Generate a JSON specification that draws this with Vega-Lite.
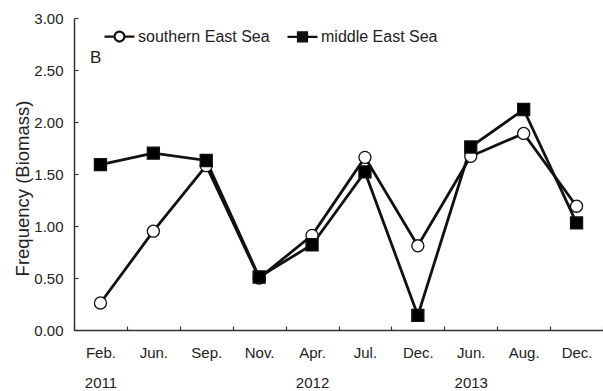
{
  "$schema": "https://vega.github.io/schema/vega-lite/v6.json",
  "width": 529,
  "height": 312,
  "autosize": {"type": "none"},
  "padding": {"left": 74, "top": 18, "right": 0, "bottom": 61},
  "background": "white",
  "title": {
    "text": "B",
    "anchor": "start",
    "frame": "group",
    "dx": 16,
    "offset": -69,
    "baseline": "alphabetic",
    "font": "Liberation Sans",
    "fontSize": 17,
    "fontWeight": "normal",
    "color": "#222"
  },
  "config": {
    "view": {"stroke": null},
    "font": "Liberation Sans",
    "axis": {
      "grid": false,
      "domainColor": "#333",
      "domainWidth": 1.5,
      "tickColor": "#333",
      "tickWidth": 1.2,
      "tickSize": -4,
      "labelFont": "Liberation Sans",
      "labelFontSize": 15,
      "labelColor": "#222",
      "titleFont": "Liberation Sans",
      "titleColor": "#222",
      "titleFontWeight": "normal"
    }
  },
  "data": {
    "values": [
      {"period": "Feb. 2011", "series": "southern East Sea", "value": 0.26},
      {"period": "Jun. 2011", "series": "southern East Sea", "value": 0.95},
      {"period": "Sep. 2011", "series": "southern East Sea", "value": 1.58},
      {"period": "Nov. 2011", "series": "southern East Sea", "value": 0.5},
      {"period": "Apr. 2012", "series": "southern East Sea", "value": 0.91},
      {"period": "Jul. 2012", "series": "southern East Sea", "value": 1.66},
      {"period": "Dec. 2012", "series": "southern East Sea", "value": 0.81},
      {"period": "Jun. 2013", "series": "southern East Sea", "value": 1.67},
      {"period": "Aug. 2013", "series": "southern East Sea", "value": 1.89},
      {"period": "Dec. 2013", "series": "southern East Sea", "value": 1.19},
      {"period": "Feb. 2011", "series": "middle East Sea", "value": 1.59},
      {"period": "Jun. 2011", "series": "middle East Sea", "value": 1.7},
      {"period": "Sep. 2011", "series": "middle East Sea", "value": 1.63},
      {"period": "Nov. 2011", "series": "middle East Sea", "value": 0.51},
      {"period": "Apr. 2012", "series": "middle East Sea", "value": 0.82},
      {"period": "Jul. 2012", "series": "middle East Sea", "value": 1.52},
      {"period": "Dec. 2012", "series": "middle East Sea", "value": 0.14},
      {"period": "Jun. 2013", "series": "middle East Sea", "value": 1.76},
      {"period": "Aug. 2013", "series": "middle East Sea", "value": 2.12},
      {"period": "Dec. 2013", "series": "middle East Sea", "value": 1.03}
    ]
  },
  "encoding": {
    "x": {
      "field": "period",
      "type": "ordinal",
      "sort": null,
      "bandPosition": 0.5,
      "scale": {"type": "band", "paddingInner": 0, "paddingOuter": 0},
      "axis": {
        "title": null,
        "labelAngle": 0,
        "tickBand": "extent",
        "labelPadding": 19,
        "labelLineHeight": 30,
        "labelExpr": "isValid(datum.value) ? [split(datum.value, ' ')[0], indexof(['Feb. 2011', 'Apr. 2012', 'Jun. 2013'], datum.value) >= 0 ? split(datum.value, ' ')[1] : ''] : ''"
      }
    },
    "y": {
      "field": "value",
      "type": "quantitative",
      "scale": {"domain": [0, 3], "nice": false, "zero": true},
      "axis": {
        "title": "Frequency (Biomass)",
        "titleFontSize": 18.5,
        "titleAngle": -90,
        "titleX": -46,
        "titleY": 170,
        "titleAlign": "center",
        "titleBaseline": "alphabetic",
        "values": [0, 0.5, 1, 1.5, 2, 2.5, 3],
        "format": ".2f",
        "labelPadding": 15
      }
    }
  },
  "layer": [
    {
      "mark": {"type": "line", "color": "#111", "strokeWidth": 2.8},
      "encoding": {"detail": {"field": "series"}}
    },
    {
      "mark": {"type": "point", "size": 145, "stroke": "#111", "strokeWidth": 1.3, "opacity": 1},
      "encoding": {
        "shape": {
          "field": "series",
          "type": "nominal",
          "scale": {"domain": ["southern East Sea", "middle East Sea"], "range": ["circle", "square"]},
          "legend": null
        },
        "fill": {
          "field": "series",
          "type": "nominal",
          "scale": {"domain": ["southern East Sea", "middle East Sea"], "range": ["white", "black"]},
          "legend": null
        },
        "order": {"field": "series", "sort": "descending"}
      }
    },
    {
      "description": "legend key: line stub with open circle / solid square marker",
      "mark": {"type": "point", "size": 900, "stroke": "#111", "strokeWidth": 2.2, "opacity": 0},
      "encoding": {
        "shape": {
          "field": "series",
          "type": "nominal",
          "scale": {
            "domain": ["southern East Sea", "middle East Sea"],
            "range": [
              "M-1,0H-0.33M0.33,0H1M-0.33,0A0.33,0.33,0,1,0,0.33,0A0.33,0.33,0,1,0,-0.33,0Z",
              "M-1,0H1M-0.3,-0.3H0.3V0.3H-0.3ZM-0.3,-0.2H0.3M-0.3,-0.1H0.3M-0.3,0.1H0.3M-0.3,0.2H0.3"
            ]
          },
          "legend": {
            "title": null,
            "orient": "none",
            "legendX": 29,
            "legendY": 2,
            "direction": "horizontal",
            "columnPadding": 13,
            "labelOffset": 2,
            "labelFont": "Liberation Sans",
            "labelFontSize": 16,
            "labelColor": "#222",
            "symbolSize": 900,
            "symbolOpacity": 1,
            "symbolFillColor": "white",
            "symbolStrokeColor": "#111",
            "symbolStrokeWidth": 2.2,
            "padding": 0
          }
        },
        "fill": {
          "field": "series",
          "type": "nominal",
          "legend": null
        }
      }
    }
  ],
  "resolve": {"scale": {"shape": "independent"}, "legend": {"shape": "independent"}}
}
